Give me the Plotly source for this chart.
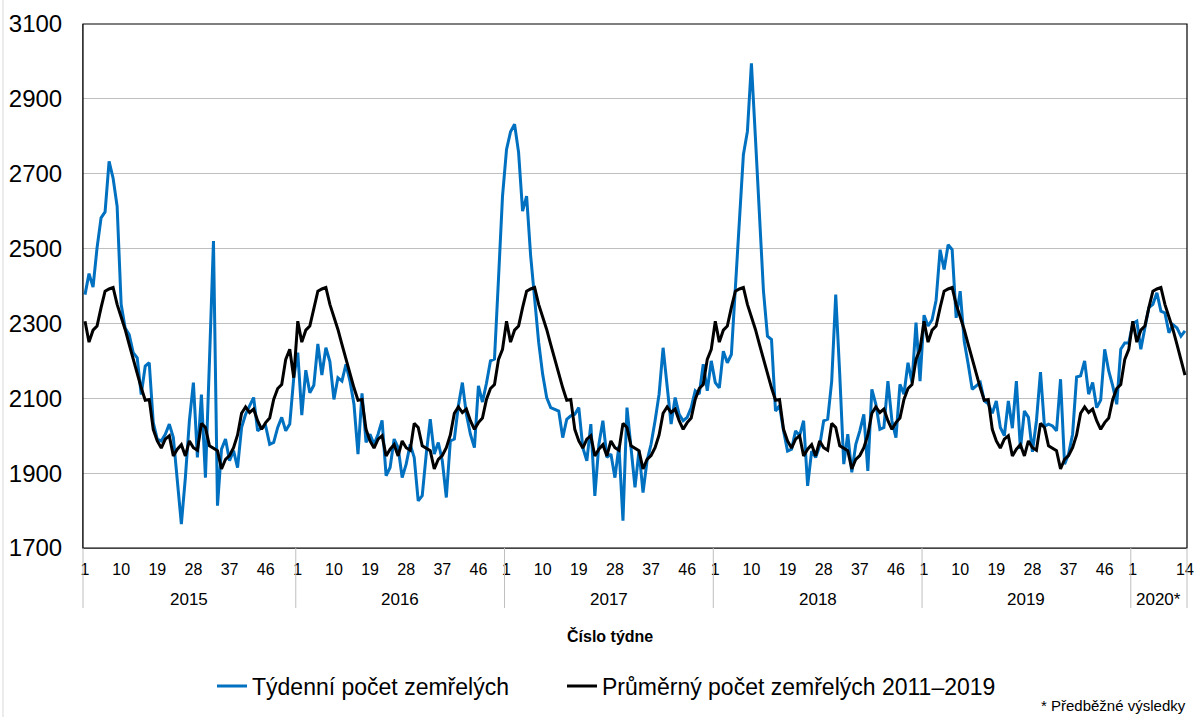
import plotly.graph_objects as go

# ---------------- data ----------------
years = ["2015", "2016", "2017", "2018", "2019", "2020*"]

deaths_2015 = [2377, 2433, 2397, 2502, 2582, 2598, 2733, 2688, 2613, 2351,
               2288, 2270, 2222, 2208, 2110, 2186, 2195, 2035, 1991, 1986,
               2004, 2031, 1995, 1888, 1764, 1888, 2040, 2142, 1942, 2110,
               1888, 2200, 2520, 1813, 1964, 1991, 1933, 1960, 1915, 2022,
               2057, 2080, 2102, 2013, 2022, 2026, 1977, 1982, 2022, 2049,
               2013, 2031, 2155]
deaths_2016 = [2222, 2055, 2175, 2115, 2135, 2245, 2162, 2235, 2198, 2097,
               2155, 2146, 2191, 2146, 2084, 1951, 2113, 1982, 2004, 1977,
               2004, 2041, 1893, 1915, 1991, 1968, 1888, 1924, 1977, 1942,
               1826, 1840, 1951, 2044, 1951, 1982, 1933, 1835, 1986, 1991,
               2080, 2142, 2057, 2004, 1968, 2133, 2090, 2140, 2200, 2205,
               2420, 2640]
deaths_2017 = [2765, 2812, 2832, 2757, 2600, 2640, 2482, 2360, 2250, 2164,
               2102, 2075, 2071, 2066, 1995, 2044, 2053, 2057, 2075, 1968,
               1933, 2031, 1839, 1977, 2040, 1942, 1951, 1888, 1973, 1773,
               2075, 1968, 1862, 1960, 1848, 1933, 1977, 2040, 2111, 2235,
               2128, 2031, 2102, 2057, 2040, 2049, 2075, 2120, 2111, 2191,
               2120, 2200]
deaths_2018 = [2142, 2128, 2226, 2195, 2217, 2395, 2555, 2751, 2813, 2995,
               2795, 2608, 2386, 2266, 2257, 2066, 2080, 2013, 1959, 1964,
               2013, 2000, 2040, 1866, 1959, 1942, 1973, 2040, 2044, 2146,
               2377, 2164, 1924, 2004, 1902, 1977, 2013, 2057, 1906, 2124,
               2084, 2017, 2022, 2146, 2040, 1995, 2137, 2111, 2195, 2142,
               2302, 2146]
deaths_2019 = [2322, 2293, 2310, 2362, 2497, 2444, 2510, 2497, 2315, 2386,
               2253, 2191, 2124, 2133, 2142, 2093, 2085, 2060, 2093, 2022,
               2000, 2093, 2020, 2146, 1965, 2066, 2049, 1957, 2040, 2170,
               2025, 2031, 2026, 2013, 2151, 1924, 1951, 2004, 2157, 2160,
               2200, 2111, 2142, 2075, 2095, 2231, 2173, 2133, 2084, 2231,
               2248, 2248]
deaths_2020 = [2300, 2306, 2231, 2288, 2342, 2351, 2382, 2333, 2328, 2275,
               2297, 2288, 2266, 2280]

avg_2011_2019 = [2306, 2250, 2282, 2293, 2342, 2386, 2392, 2396, 2351, 2318,
                 2284, 2244, 2204, 2162, 2128, 2095, 2097, 2017, 1986, 1967,
                 1991, 2000, 1946, 1964, 1976, 1946, 1986, 1968, 1961, 2033,
                 2022, 1973, 1967, 1960, 1911, 1937, 1947, 1968, 2002, 2060,
                 2077, 2062, 2071, 2040, 2017, 2035, 2047, 2097, 2126, 2137,
                 2204, 2231, 2155]

week_labels = [1, 10, 19, 28, 37, 46]
week_labels_last = [1, 14]

weekly = [deaths_2015, deaths_2016, deaths_2017, deaths_2018, deaths_2019, deaths_2020]

# ---------------- build series on a running week index ----------------
x_idx, blue, black = [], [], []
tickvals, ticktext = [], []
boundaries = [-0.5]
centers = []
i = 0
for yr, vals in zip(years, weekly):
    start = i
    shown = week_labels_last if yr.endswith("*") else week_labels
    for k, v in enumerate(vals, 1):
        x_idx.append(i)
        blue.append(v)
        black.append(avg_2011_2019[k - 1])
        if k in shown:
            tickvals.append(i)
            ticktext.append(str(k))
        i += 1
    boundaries.append(i - 0.5)
    centers.append((start + i - 1) / 2)

xmin, xmax = -0.5, i - 0.5

FONT = "Arial, Liberation Sans, sans-serif"

fig = go.Figure()
fig.add_trace(go.Scatter(x=x_idx, y=blue, mode="lines", name="Týdenní počet zemřelých",
                         line=dict(color="#0070C0", width=3), legend="legend"))
fig.add_trace(go.Scatter(x=x_idx, y=black, mode="lines", name="Průměrný počet zemřelých 2011–2019",
                         line=dict(color="#000000", width=3), legend="legend2"))

W, H = 1201, 717
L, R, T, B = 83, 14, 24, 169
pw, ph = W - L - R, H - T - B


def py(ypix):
    return (H - B - ypix) / ph


shapes = []
# plot-area border
shapes.append(dict(type="rect", xref="paper", yref="paper", x0=0, x1=1, y0=0, y1=1,
                   line=dict(color="#000000", width=1.2), layer="above"))
# year separators below the axis
for b in boundaries:
    xp = (b - xmin) / (xmax - xmin)
    shapes.append(dict(type="line", xref="paper", yref="paper", x0=xp, x1=xp,
                       y0=0, y1=py(608), line=dict(color="#BFBFBF", width=1)))
# outer chart frame (left edge)
shapes.append(dict(type="line", xref="paper", yref="paper", x0=(3 - L) / pw, x1=(3 - L) / pw,
                   y0=py(717), y1=py(0), line=dict(color="#D9D9D9", width=1)))

annotations = []
for yr, c in zip(years, centers):
    annotations.append(dict(x=c, xref="x", y=py(599), yref="paper", text=yr, showarrow=False,
                            font=dict(size=17, color="#000000", family=FONT),
                            xanchor="center", yanchor="middle"))
annotations.append(dict(x=(610 - L) / pw, xref="paper", y=py(636), yref="paper",
                        text="<b>Číslo týdne</b>", showarrow=False,
                        font=dict(size=16, color="#000000", family=FONT),
                        xanchor="center", yanchor="middle"))
annotations.append(dict(x=(1188 - L) / pw, xref="paper", y=py(705), yref="paper",
                        text="* Předběžné výsledky", showarrow=False,
                        font=dict(size=15, color="#000000", family=FONT),
                        xanchor="right", yanchor="middle"))

fig.update_layout(
    width=W, height=H,
    margin=dict(l=L, r=R, t=T, b=B, autoexpand=False),
    paper_bgcolor="#FFFFFF", plot_bgcolor="#FFFFFF",
    font=dict(family=FONT, color="#000000"),
    shapes=shapes,
    annotations=annotations,
    showlegend=True,
    legend=dict(orientation="h", x=(212 - L) / pw, xanchor="left", y=py(686), yanchor="middle",
                font=dict(size=23, family=FONT, color="#000000"), bgcolor="rgba(0,0,0,0)"),
    legend2=dict(orientation="h", x=(562 - L) / pw, xanchor="left", y=py(686), yanchor="middle",
                 font=dict(size=23, family=FONT, color="#000000"), bgcolor="rgba(0,0,0,0)"),
    xaxis=dict(range=[xmin, xmax], tickmode="array", tickvals=tickvals, ticktext=ticktext,
               tickangle=0, tickfont=dict(size=16, family=FONT, color="#000000"),
               ticks="outside", ticklen=7, tickcolor="rgba(0,0,0,0)", automargin=False,
               showgrid=False, zeroline=False, showline=True, linecolor="#868686", linewidth=1),
    yaxis=dict(range=[1700, 3100], tick0=1700, dtick=200, automargin=False,
               tickfont=dict(size=24, family=FONT, color="#000000"),
               ticks="outside", ticklen=15, tickcolor="rgba(0,0,0,0)",
               showgrid=True, gridcolor="#BFBFBF", gridwidth=1,
               zeroline=False, showline=True, linecolor="#868686", linewidth=1),
)

fig.write_html("out.html", include_plotlyjs=True, config={"displayModeBar": False},
               post_script="document.body.style.margin='0';document.body.style.padding='0';")
